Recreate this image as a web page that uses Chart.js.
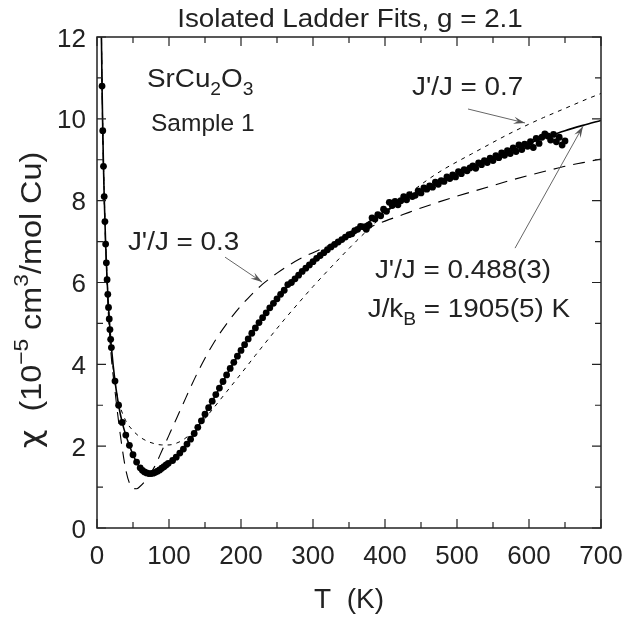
<!DOCTYPE html>
<html>
<head>
<meta charset="utf-8">
<script src="https://cdn.jsdelivr.net/npm/chart.js@4.4.1/dist/chart.umd.min.js"></script>
<style>
  html, body { margin: 0; padding: 0; background: #fff; }
</style>
</head>
<body>
<canvas id="chiPlot" width="624" height="621"></canvas>
<script>
// measured susceptibility, SrCu2O3 sample 1
const tData = [
  7, 8, 9, 10, 11, 12, 13, 14, 15, 16, 17, 18, 19, 20,
  25, 30, 35, 40, 45, 50, 55, 60,
  63, 66, 69, 72, 75, 78, 81, 84, 87, 90, 93, 96, 99,
  105, 110, 115, 120, 125, 130, 135, 140, 145, 150, 155, 160, 165, 170, 175,
  180, 185, 190, 195, 200, 205, 210, 215, 220, 225, 230, 235, 240, 245, 250,
  255, 260, 265, 270, 275, 280, 285, 290, 295, 300, 305, 310, 315, 320, 325,
  330, 335, 340, 345, 350,
  354, 358, 362, 366, 370, 374, 378, 382, 386, 390, 394, 398, 402, 406, 410,
  414, 418, 422, 426, 430, 434, 438, 442, 446, 450, 454, 458, 462, 466, 470,
  474, 478, 482, 486, 490, 494, 498, 502, 506, 510, 514, 518, 522, 526, 530,
  534, 538, 542, 546, 550, 554, 558, 562, 566, 570, 574, 578, 582, 586, 590,
  594, 598, 602, 606, 610, 614, 618, 622, 626, 630, 634, 638, 642, 646, 650
];
const chiData = [
  10.80, 9.71, 8.84, 8.10, 7.49, 6.94, 6.48, 6.07, 5.71, 5.39, 5.11, 4.85, 4.61, 4.41,
  3.59, 3.00, 2.58, 2.27, 2.02, 1.79, 1.61, 1.47,
  1.41, 1.37, 1.345, 1.33, 1.33, 1.34, 1.36, 1.39, 1.42, 1.46, 1.50, 1.54, 1.58,
  1.65, 1.73, 1.83, 1.93, 2.05, 2.17, 2.31, 2.46, 2.62, 2.78, 2.94, 3.10, 3.26, 3.42, 3.58,
  3.74, 3.90, 4.05, 4.20, 4.34, 4.48, 4.62, 4.76, 4.89, 5.02, 5.14, 5.26, 5.38, 5.49, 5.60,
  5.71, 5.81, 5.95, 6.00, 6.09, 6.18, 6.27, 6.35, 6.43, 6.51, 6.59, 6.66, 6.73, 6.80, 6.87,
  6.93, 6.99, 7.05, 7.11, 7.17,
  7.19, 7.27, 7.30, 7.37, 7.36, 7.30, 7.40, 7.58, 7.55, 7.66, 7.63, 7.79, 7.74, 7.96, 7.88,
  7.98, 7.90, 8.00, 8.10, 8.02, 8.15, 8.10, 8.13, 8.24, 8.19, 8.31, 8.28, 8.36, 8.33, 8.45,
  8.40, 8.49, 8.47, 8.58, 8.54, 8.63, 8.58, 8.71, 8.66, 8.76, 8.73, 8.80, 8.85, 8.79, 8.92,
  8.88, 8.98, 8.93, 9.04, 8.98, 9.10, 9.05, 9.17, 9.11, 9.22, 9.15, 9.29, 9.20, 9.36, 9.25,
  9.38, 9.33, 9.44, 9.30, 9.52, 9.40, 9.55, 9.63, 9.58, 9.48, 9.62, 9.44, 9.55, 9.36, 9.46
];

// best fit, J'/J = 0.488
const tFit = [
  4, 5, 6, 7, 8, 9, 10, 12, 14, 16, 18, 20, 25, 30, 35, 40, 45, 50, 55, 60, 65, 70, 75, 80,
  90, 100, 110, 120, 130, 140, 150, 160, 170, 180, 190, 200, 220, 240, 260, 280, 300, 320,
  340, 360, 380, 400, 425, 450, 475, 500, 525, 550, 575, 600, 625, 650, 675, 700
];
const chiFit = [
  16.4, 14.0, 12.2, 10.8, 9.71, 8.84, 8.10, 6.94, 6.07, 5.39, 4.85, 4.41, 3.59, 3.00, 2.58,
  2.27, 2.02, 1.79, 1.61, 1.47, 1.39, 1.34, 1.33, 1.35,
  1.45, 1.57, 1.73, 1.93, 2.17, 2.46, 2.78, 3.10, 3.42, 3.74, 4.05, 4.34, 4.89, 5.38, 5.81,
  6.18, 6.51, 6.80, 7.05, 7.29, 7.51, 7.74, 7.99, 8.23, 8.45, 8.66, 8.86, 9.04, 9.22, 9.40,
  9.56, 9.71, 9.84, 9.96
];

// J'/J = 0.7
const tJ07 = [
  4, 5, 6, 7, 8, 10, 12, 15, 20, 25, 30, 40, 50, 60, 70, 80, 90, 100, 110, 120, 130, 140,
  150, 160, 170, 180, 190, 200, 220, 240, 260, 280, 300, 320, 340, 360, 380, 400, 420, 440,
  460, 480, 500, 520, 540, 560, 580, 600, 620, 640, 660, 680, 700
];
const chiJ07 = [
  16.5, 14.1, 12.3, 10.9, 9.8, 8.2, 7.05, 5.75, 4.35, 3.55, 3.10, 2.62, 2.38, 2.22, 2.12,
  2.06, 2.03, 2.03, 2.07, 2.16, 2.30, 2.48, 2.68, 2.89, 3.11, 3.33, 3.55, 3.77, 4.22, 4.66,
  5.09, 5.50, 5.90, 6.28, 6.65, 7.01, 7.35, 7.68, 7.98, 8.26, 8.52, 8.75, 8.95, 9.14, 9.33,
  9.52, 9.70, 9.87, 10.03, 10.18, 10.33, 10.48, 10.62
];

// J'/J = 0.3
const tJ03 = [
  4, 5, 6, 8, 10, 12, 15, 20, 25, 30, 35, 40, 45, 50, 55, 60, 65, 70, 75, 80, 90, 100, 110,
  120, 130, 140, 150, 160, 170, 180, 190, 200, 210, 220, 230, 240, 250, 260, 270, 280, 290,
  300, 325, 350, 375, 400, 425, 450, 475, 500, 525, 550, 575, 600, 625, 650, 675, 700
];
const chiJ03 = [
  17.0, 14.3, 12.3, 9.6, 8.0, 6.9, 5.5, 4.15, 3.35, 2.60, 1.95, 1.42, 1.10, 0.97, 0.96, 1.02,
  1.11, 1.22, 1.35, 1.50, 1.88, 2.27, 2.66, 3.05, 3.44, 3.81, 4.15, 4.46, 4.74, 4.99, 5.22,
  5.43, 5.62, 5.80, 5.96, 6.10, 6.23, 6.35, 6.46, 6.56, 6.65, 6.73, 6.93, 7.13, 7.32, 7.50,
  7.66, 7.82, 7.97, 8.11, 8.24, 8.37, 8.50, 8.62, 8.73, 8.84, 8.93, 9.02
];

const xTicks = [0, 100, 200, 300, 400, 500, 600, 700];
const xMinor = [50, 150, 250, 350, 450, 550, 650];
const yTicks = [0, 2, 4, 6, 8, 10, 12];
const yMinor = [1, 3, 5, 7, 9, 11];

const FONT = '"Liberation Sans", Arial, Helvetica, sans-serif';
const ink = "#222";

const pts = (xs, ys) => xs.map((v, i) => ({ x: v, y: ys[i] }));

// draws text made of pieces; kind 0 normal, 1 subscript, 2 superscript, 3 greek
function richText(ctx, parts, x, y, align, size, sx) {
  const small = Math.round(size * 0.7);
  const fontOf = (k) =>
    k === 3 ? size + 'px "DejaVu Sans", ' + FONT : (k === 1 || k === 2 ? small : size) + "px " + FONT;
  ctx.save();
  ctx.translate(x, y);
  ctx.scale(sx, 1);
  let w = 0;
  const ws = parts.map(([t, k]) => {
    ctx.font = fontOf(k);
    const m = ctx.measureText(t).width;
    w += m;
    return m;
  });
  let cx = align === "center" ? -w / 2 : align === "right" ? -w : 0;
  ctx.textAlign = "left";
  ctx.textBaseline = "alphabetic";
  parts.forEach(([t, k], i) => {
    ctx.font = fontOf(k);
    const dy = k === 1 ? size * 0.33 : k === 2 ? -size * 0.42 : 0;
    ctx.fillText(t, cx, dy);
    cx += ws[i];
  });
  ctx.restore();
}

function arrow(ctx, x1, y1, x2, y2) {
  const a = Math.atan2(y2 - y1, x2 - x1);
  ctx.save();
  ctx.strokeStyle = "#666";
  ctx.fillStyle = "#555";
  ctx.lineWidth = 1;
  ctx.beginPath();
  ctx.moveTo(x1, y1);
  ctx.lineTo(x2, y2);
  ctx.stroke();
  const L = 12, s = 0.3;
  ctx.beginPath();
  ctx.moveTo(x2, y2);
  ctx.lineTo(x2 - L * Math.cos(a - s), y2 - L * Math.sin(a - s));
  ctx.lineTo(x2 - L * 0.6 * Math.cos(a), y2 - L * 0.6 * Math.sin(a));
  ctx.lineTo(x2 - L * Math.cos(a + s), y2 - L * Math.sin(a + s));
  ctx.closePath();
  ctx.fill();
  ctx.restore();
}

const framePlugin = {
  id: "frame",
  afterDraw(chart) {
    const { ctx, chartArea: a, scales } = chart;
    const x = scales.x, y = scales.y;
    ctx.save();

    // box
    ctx.strokeStyle = ink;
    ctx.lineWidth = 1.5;
    ctx.strokeRect(a.left, a.top, a.right - a.left, a.bottom - a.top);

    // inward ticks on all four sides
    ctx.lineWidth = 1.2;
    ctx.beginPath();
    const xt = (v, len) => {
      const p = x.getPixelForValue(v);
      ctx.moveTo(p, a.bottom); ctx.lineTo(p, a.bottom - len);
      ctx.moveTo(p, a.top); ctx.lineTo(p, a.top + len);
    };
    const yt = (v, len) => {
      const p = y.getPixelForValue(v);
      ctx.moveTo(a.left, p); ctx.lineTo(a.left + len, p);
      ctx.moveTo(a.right, p); ctx.lineTo(a.right - len, p);
    };
    xTicks.forEach((v) => xt(v, 9));
    xMinor.forEach((v) => xt(v, 6));
    yTicks.forEach((v) => yt(v, 9));
    yMinor.forEach((v) => yt(v, 6));
    ctx.stroke();

    // tick labels
    ctx.fillStyle = ink;
    ctx.font = "26px " + FONT;
    ctx.textAlign = "center";
    ctx.textBaseline = "alphabetic";
    xTicks.forEach((v) => ctx.fillText(String(v), x.getPixelForValue(v), a.bottom + 36));
    ctx.textAlign = "right";
    yTicks.forEach((v) => ctx.fillText(String(v), a.left - 11, y.getPixelForValue(v) + 9.5));

    // titles
    richText(ctx, [["Isolated Ladder Fits, g = 2.1", 0]], 350, 27, "center", 26, 1.07);
    richText(ctx, [["T  (K)", 0]], (a.left + a.right) / 2, 608, "center", 28, 1);
    ctx.save();
    ctx.translate(41, 300);
    ctx.rotate(-Math.PI / 2);
    richText(ctx, [["\u03c7", 3], ["  (10", 0], ["\u22125", 2], [" cm", 0], ["3", 2], ["/mol Cu)", 0]],
      0, 0, "center", 30, 1.08);
    ctx.restore();

    // annotations (anchored in data units)
    const X = (v) => x.getPixelForValue(v);
    const Y = (v) => y.getPixelForValue(v);
    richText(ctx, [["SrCu", 0], ["2", 1], ["O", 0], ["3", 1]], X(69.4), Y(10.78), "left", 26, 1.07);
    richText(ctx, [["Sample 1", 0]], X(75), Y(9.70), "left", 24.5, 1.0);
    richText(ctx, [["J'/J = 0.7", 0]], X(437.5), Y(10.58), "left", 26, 1.07);
    richText(ctx, [["J'/J = 0.3", 0]], X(43), Y(6.79), "left", 26, 1.07);
    richText(ctx, [["J'/J = 0.488(3)", 0]], X(386), Y(6.11), "left", 26, 1.07);
    richText(ctx, [["J/k", 0], ["B", 1], [" = 1905(5) K", 0]], X(376), Y(5.16), "left", 26, 1.07);

    arrow(ctx, X(515.3), Y(10.24), X(594.4), Y(9.90));
    arrow(ctx, X(177.8), Y(6.62), X(229.2), Y(6.01));
    arrow(ctx, X(580.6), Y(6.84), X(675), Y(9.82));

    ctx.restore();
  },
};

new Chart(document.getElementById("chiPlot"), {
  type: "scatter",
  data: {
    datasets: [
      {
        label: "data",
        data: pts(tData, chiData),
        pointRadius: 3.4,
        pointBackgroundColor: "#000",
        pointBorderWidth: 0,
        showLine: false,
      },
      {
        label: "fit J'/J = 0.488",
        data: pts(tFit, chiFit),
        showLine: true,
        borderColor: "#000",
        borderWidth: 1.6,
        pointRadius: 0,
        cubicInterpolationMode: "monotone",
      },
      {
        label: "J'/J = 0.7",
        data: pts(tJ07, chiJ07),
        showLine: true,
        borderColor: "#000",
        borderWidth: 1,
        borderDash: [4, 5],
        pointRadius: 0,
        cubicInterpolationMode: "monotone",
      },
      {
        label: "J'/J = 0.3",
        data: pts(tJ03, chiJ03),
        showLine: true,
        borderColor: "#000",
        borderWidth: 1.1,
        borderDash: [12, 8],
        pointRadius: 0,
        cubicInterpolationMode: "monotone",
      },
    ],
  },
  options: {
    responsive: false,
    animation: false,
    devicePixelRatio: 1,
    layout: { padding: { left: 97, right: 23, top: 37, bottom: 93 } },
    plugins: { legend: { display: false }, tooltip: { enabled: false } },
    scales: {
      x: { type: "linear", min: 0, max: 700, display: false },
      y: { type: "linear", min: 0, max: 12, display: false },
    },
  },
  plugins: [framePlugin],
});
</script>
</body>
</html>
